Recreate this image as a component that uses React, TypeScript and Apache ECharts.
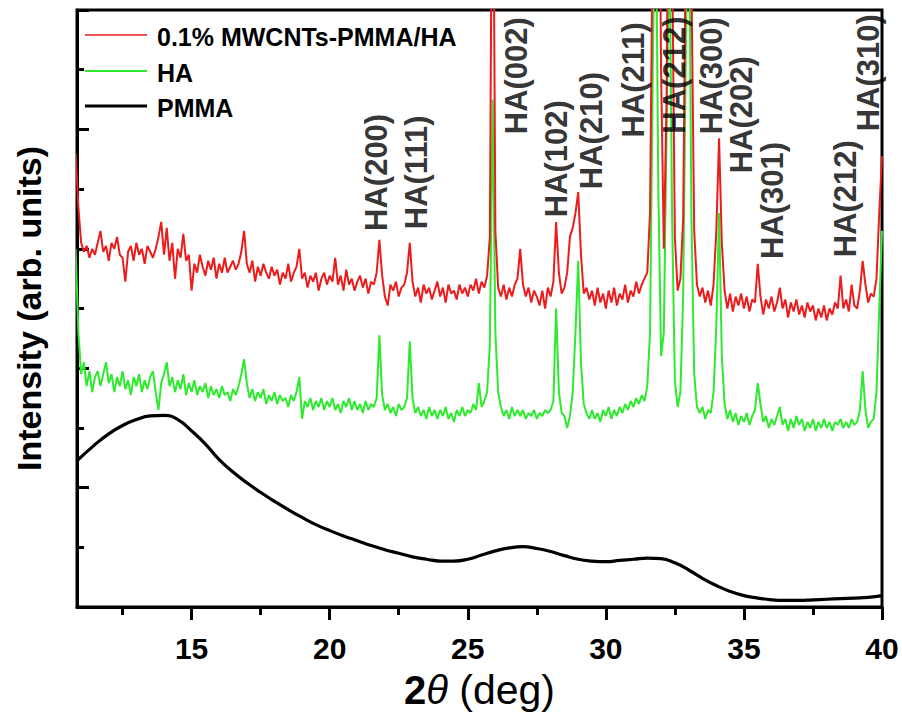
import React, { useEffect, useRef } from "react";
import * as echarts from "echarts";

// 2θ grid for the two noisy XRD patterns: first value at 10.8°, one value every 0.1°
const SCAN_START = 10.8;
const SCAN_STEP = 0.1;

// 0.1% MWCNTs-PMMA/HA (red), one row per degree
const COMPOSITE_VALUES = [
  7.6, 6.7,
  6.1, 5.95, 6.05, 5.85, 6.0, 5.9, 6.1, 6.3, 5.95, 6.05,
  5.8, 6.1, 6.0, 6.2, 5.9, 5.85, 5.45, 5.95, 6.05, 5.8,
  6.1, 5.9, 6.0, 5.75, 6.05, 5.95, 5.85, 6.0, 6.2, 6.45,
  5.9, 6.35, 5.8, 6.1, 5.5, 6.0, 5.85, 6.25, 5.8, 5.9,
  5.3, 5.75, 5.6, 5.9, 5.7, 5.55, 5.8, 5.65, 5.85, 5.5,
  5.75, 5.6, 5.85, 5.6, 5.7, 5.8, 5.65, 5.75, 5.95, 6.3,
  5.75, 5.6, 5.8, 5.45, 5.7, 5.55, 5.75, 5.6, 5.5, 5.7,
  5.55, 5.65, 5.4, 5.6, 5.5, 5.75, 5.45, 5.6, 5.7, 6.0,
  5.5, 5.6, 5.35, 5.55, 5.45, 5.6, 5.3, 5.5, 5.6, 5.4,
  5.55, 5.45, 5.85, 5.4, 5.55, 5.3, 5.65, 5.4, 5.5, 5.3,
  5.45, 5.55, 5.35, 5.5, 5.25, 5.45, 5.4, 5.6, 6.15, 5.55,
  5.2, 5.05, 5.4, 5.3, 5.45, 5.2, 5.35, 5.4, 5.6, 6.1,
  5.45, 5.2, 5.35, 5.1, 5.4, 5.25, 5.35, 5.15, 5.3, 5.45,
  5.2, 5.35, 5.1, 5.4, 5.25, 5.3, 5.15, 5.4, 5.25, 5.35,
  5.2, 5.4, 5.3, 5.5, 5.25, 5.45, 5.35, 5.55, 6.2, 14.5,
  6.3, 5.35, 5.2, 5.4, 5.15, 5.35, 5.2, 5.4, 5.5, 6.0,
  5.4, 5.2, 5.35, 5.1, 5.3, 5.2, 5.05, 5.3, 5.0, 5.35,
  5.2, 5.45, 6.45, 5.6, 5.25, 5.35, 5.6, 6.2, 6.35, 6.6,
  6.95, 5.9, 5.25, 5.35, 5.15, 5.3, 5.05, 5.35, 5.1, 5.25,
  5.0, 5.3, 5.1, 5.35, 5.05, 5.25, 5.15, 5.4, 5.1, 5.3,
  5.2, 5.45, 5.25, 5.4, 5.5, 5.6, 6.6, 11.5, 16, 15,
  9.0, 6.0, 8.5, 15, 11, 6.2, 5.3, 5.5, 6.5, 11.5,
  16, 10.5, 6.3, 5.4, 5.2, 5.35, 5.1, 5.3, 5.05, 5.4,
  6.3, 7.85, 6.1, 5.3, 5.0, 5.25, 4.95, 5.2, 5.05, 5.25,
  5.0, 5.2, 4.95, 5.15, 5.1, 5.75, 5.2, 4.9, 5.15, 5.0,
  5.2, 4.95, 5.1, 5.35, 5.0, 5.15, 4.85, 5.1, 4.95, 5.15,
  4.9, 5.05, 4.85, 5.1, 4.95, 5.05, 4.8, 5.0, 4.85, 5.05,
  4.8, 5.0, 4.9, 5.1, 5.0, 5.55, 5.0, 5.15, 4.95, 5.4,
  5.05, 5.0, 5.3, 5.8, 5.4, 5.1, 5.25, 5.2, 5.5, 6.6,
  7.55,
];

// HA (green), same grid
const HA_VALUES = [
  6.0, 4.6,
  3.9, 4.1, 3.7, 3.95, 3.6, 3.85, 3.95, 3.7, 3.9, 4.1,
  3.75, 3.9, 3.6, 3.85, 3.7, 3.95, 3.65, 3.8, 3.55, 3.85,
  3.7, 3.9, 3.6, 3.8, 3.65, 3.85, 3.95, 3.6, 3.3, 3.75,
  3.9, 4.1, 3.7, 3.85, 3.6, 3.8, 3.65, 3.9, 3.55, 3.75,
  3.6, 3.8, 3.55, 3.7, 3.6, 3.75, 3.5, 3.7, 3.55, 3.65,
  3.5, 3.7, 3.55, 3.6, 3.45, 3.65, 3.55, 3.7, 3.9, 4.15,
  3.75, 3.5, 3.65, 3.45, 3.6, 3.5, 3.65, 3.4, 3.55, 3.45,
  3.6, 3.4, 3.55, 3.45, 3.5, 3.35, 3.55, 3.45, 3.6, 3.85,
  3.15, 3.45, 3.35, 3.5, 3.3, 3.45, 3.35, 3.5, 3.3, 3.45,
  3.35, 3.5, 3.3, 3.4, 3.25, 3.45, 3.35, 3.5, 3.3, 3.45,
  3.3, 3.4, 3.25, 3.45, 3.3, 3.4, 3.35, 3.5, 4.55, 3.55,
  3.3, 3.4, 3.25, 3.35, 3.2, 3.4, 3.3, 3.35, 3.5, 4.45,
  3.5, 3.25, 3.35, 3.2, 3.3, 3.15, 3.35, 3.2, 3.3, 3.15,
  3.3, 3.2, 3.35, 3.15, 3.25, 3.1, 3.3, 3.2, 3.35, 3.2,
  3.3, 3.25, 3.4, 3.3, 3.75, 3.35, 3.45, 3.6, 4.4, 8.5,
  4.6, 3.6, 3.35, 3.2, 3.3, 3.15, 3.35, 3.2, 3.3, 3.2,
  3.3, 3.15, 3.25, 3.2, 3.3, 3.15, 3.25, 3.2, 3.3, 3.25,
  3.3, 3.45, 5.0, 3.6, 3.25, 3.2, 3.0, 3.2, 3.6, 4.6,
  5.8, 4.1, 3.4, 3.25, 3.15, 3.3, 3.15, 3.25, 3.1, 3.3,
  3.2, 3.35, 3.15, 3.3, 3.2, 3.35, 3.25, 3.4, 3.3, 3.45,
  3.35, 3.5, 3.4, 3.55, 3.45, 3.7, 4.6, 9.0, 12.5, 7.0,
  4.2, 4.6, 8.0, 11.5, 6.5, 3.8, 3.35, 3.6, 5.2, 9.5,
  12.5, 6.5, 3.9, 3.35, 3.25, 3.35, 3.15, 3.3, 3.25, 3.6,
  4.7, 6.6, 4.2, 3.4, 3.15, 3.3, 3.1, 3.25, 3.05, 3.2,
  3.1, 3.25, 3.05, 3.2, 3.3, 3.75, 3.4, 3.1, 3.2, 3.0,
  3.15, 3.05, 3.2, 3.35, 3.05, 3.15, 2.95, 3.15, 3.0, 3.2,
  3.05, 3.15, 2.95, 3.1, 3.0, 3.15, 2.95, 3.1, 3.0, 3.15,
  3.0, 3.1, 2.95, 3.1, 3.05, 3.15, 3.0, 3.1, 3.0, 3.15,
  3.05, 3.1, 3.3, 3.95, 3.3, 3.0, 3.1, 3.15, 3.6, 5.0,
  6.3,
];

// PMMA (black, smooth)
const PMMA_X = [
  10.85, 11.5, 12, 12.5, 13, 13.5, 14, 14.5, 15, 15.5, 16, 16.5, 17, 17.5,
  18, 18.5, 19, 19.5, 20, 20.5, 21, 21.5, 22, 22.5, 23, 23.5, 24, 24.5, 25,
  25.5, 26, 26.5, 27, 27.5, 28, 28.5, 29, 29.5, 30, 30.5, 31, 31.5, 32, 32.5,
  33, 33.5, 34, 34.5, 35, 35.5, 36, 36.5, 37, 37.5, 38, 38.5, 39, 39.5, 40,
];
const PMMA_VALUES = [
  2.45, 2.72, 2.9, 3.04, 3.14, 3.2, 3.21, 3.14, 2.95, 2.73, 2.47, 2.26, 2.08,
  1.92, 1.77, 1.63, 1.5, 1.38, 1.28, 1.19, 1.11, 1.03, 0.96, 0.9, 0.84, 0.8,
  0.77, 0.77, 0.8, 0.87, 0.94, 0.99, 1.01, 0.98, 0.93, 0.86, 0.8, 0.77, 0.76,
  0.78, 0.8, 0.82, 0.81, 0.74, 0.62, 0.48, 0.36, 0.26, 0.19, 0.15, 0.12, 0.11,
  0.11, 0.12, 0.13, 0.14, 0.15, 0.16, 0.19,
];

const SERIES_NAMES = ["0.1% MWCNTs-PMMA/HA", "HA", "PMMA"];

const X_MAJOR_TICKS = [15, 20, 25, 30, 35, 40];
const X_MINOR_TICKS = [12.5, 17.5, 22.5, 27.5, 32.5, 37.5];

const PEAK_LABELS = [
  "HA(200)", "HA(111)", "HA(002)", "HA(102)", "HA(210)", "HA(211)",
  "HA(212)", "HA(300)", "HA(202)", "HA(301)", "HA(212)", "HA(310)",
];
const PEAK_LABEL_X = [21.69, 23.14, 26.77, 28.22, 29.49, 31.01, 32.5, 33.84, 34.93, 36.05, 38.67, 39.5];
const PEAK_LABEL_Y = [7.28, 7.28, 8.9, 7.51, 7.98, 8.83, 8.91, 8.9, 8.245, 6.81, 6.84, 8.95];

const FONT = "'Liberation Sans', Arial, Helvetica, sans-serif";
const RED = "#ec1c1c";
const GREEN = "#2eea2e";
const BLACK = "#000000";

function scan(values: number[]): number[][] {
  return values.map((v, i) => [Math.round((SCAN_START + i * SCAN_STEP) * 100) / 100, v]);
}

export default function App() {
  const ref = useRef<HTMLDivElement>(null);

  useEffect(() => {
    if (!ref.current) return;
    const chart = echarts.init(ref.current, undefined, { renderer: "svg" });

    const legendRows = SERIES_NAMES.map((name, i) => {
      const ys = [35, 71, 106];
      const widths = [1.5, 2, 3];
      const colors = [RED, GREEN, BLACK];
      return [
        {
          type: "line",
          shape: { x1: 85, y1: ys[i], x2: 147, y2: ys[i] },
          style: { stroke: colors[i], lineWidth: widths[i] },
        },
        {
          type: "text",
          x: 157,
          y: ys[i] + 2,
          style: {
            text: name,
            font: `bold 25px ${FONT}`,
            fill: "#000",
            verticalAlign: "middle",
            align: "left",
          },
        },
      ];
    }).flat();

    const option: any = {
      animation: false,
      backgroundColor: "#fff",
      grid: {
        left: 77,
        top: 10,
        right: 20,
        bottom: 107,
        show: true,
        borderColor: "#000",
        borderWidth: 3,
        backgroundColor: "transparent",
      },
      xAxis: [
        {
          type: "value",
          min: 10.85,
          max: 40,
          position: "bottom",
          axisLine: { show: true, onZero: false, lineStyle: { color: "#000", width: 3 } },
          axisTick: {
            show: true,
            inside: false,
            length: 13,
            customValues: X_MAJOR_TICKS,
            lineStyle: { color: "#000", width: 3 },
          },
          axisLabel: {
            show: true,
            customValues: X_MAJOR_TICKS,
            fontSize: 30,
            fontWeight: "bold",
            fontFamily: FONT,
            color: "#000",
            margin: 26,
          },
          splitLine: { show: false },
          name: "{b|2}{i|θ}{r| (deg)}",
          nameLocation: "middle",
          nameGap: 62,
          nameTextStyle: {
            rich: {
              b: { fontSize: 40, fontWeight: "bold", fontFamily: FONT, color: "#000" },
              i: { fontSize: 40, fontStyle: "italic", fontFamily: FONT, color: "#000" },
              r: { fontSize: 41, fontFamily: FONT, color: "#000" },
            },
          },
        },
        {
          type: "value",
          min: 10.85,
          max: 40,
          position: "bottom",
          axisLine: { show: false, onZero: false },
          axisTick: {
            show: true,
            inside: false,
            length: 8,
            customValues: X_MINOR_TICKS,
            lineStyle: { color: "#000", width: 3 },
          },
          axisLabel: { show: false },
          splitLine: { show: false },
        },
      ],
      yAxis: {
        type: "value",
        min: 0,
        max: 10,
        interval: 2,
        axisLine: { show: true, onZero: false, lineStyle: { color: "#000", width: 3 } },
        axisTick: { show: true, inside: true, length: 12, lineStyle: { color: "#000", width: 3 } },
        minorTick: { show: true, splitNumber: 2, length: 7, lineStyle: { color: "#000", width: 3 } },
        axisLabel: { show: false },
        splitLine: { show: false },
        minorSplitLine: { show: false },
        name: "Intensity (arb. units)",
        nameLocation: "middle",
        nameGap: 31,
        nameTextStyle: { fontSize: 34, fontWeight: "bold", fontFamily: FONT, color: "#000" },
      },
      graphic: legendRows,
      series: [
        {
          name: SERIES_NAMES[2],
          type: "line",
          data: PMMA_X.map((x, i) => [x, PMMA_VALUES[i]]),
          smooth: 0.5,
          showSymbol: false,
          symbol: "none",
          lineStyle: { color: BLACK, width: 3.2 },
          clip: true,
          z: 2,
          silent: true,
        },
        {
          name: SERIES_NAMES[1],
          type: "line",
          data: scan(HA_VALUES),
          showSymbol: false,
          symbol: "none",
          lineStyle: { color: GREEN, width: 2 },
          clip: true,
          z: 3,
          silent: true,
        },
        {
          name: SERIES_NAMES[0],
          type: "line",
          data: scan(COMPOSITE_VALUES),
          showSymbol: false,
          symbol: "none",
          lineStyle: { color: RED, width: 2 },
          clip: true,
          z: 4,
          silent: true,
        },
        {
          name: "peaks",
          type: "scatter",
          data: PEAK_LABELS.map((t, i) => ({ name: t, value: [PEAK_LABEL_X[i], PEAK_LABEL_Y[i]] })),
          symbolSize: 1,
          itemStyle: { color: "transparent" },
          clip: false,
          z: 6,
          silent: true,
          label: {
            show: true,
            position: "inside",
            formatter: "{b}",
            rotate: 90,
            align: "center",
            verticalAlign: "middle",
            fontSize: 31,
            fontWeight: "bold",
            fontFamily: FONT,
            color: "#000",
          },
        },
      ],
    };

    chart.setOption(option);
    return () => chart.dispose();
  }, []);

  return (
    <div
      ref={ref}
      style={{ position: "fixed", left: 0, top: 0, width: "902px", height: "715px", background: "#fff" }}
    />
  );
}
